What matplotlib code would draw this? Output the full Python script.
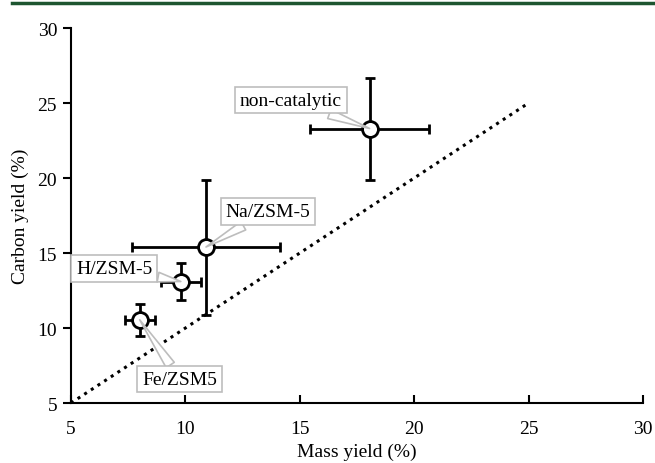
import matplotlib.pyplot as plt
from matplotlib.lines import Line2D

plt.rcParams['font.family'] = ['Liberation Serif', 'DejaVu Serif']

labels = ["Fe/ZSM5", "H/ZSM-5", "Na/ZSM-5", "non-catalytic"]
mass_yield = [8.0, 9.8, 10.9, 18.05]
mass_err = [0.65, 0.87, 3.25, 2.6]
carbon_yield = [10.55, 13.1, 15.4, 23.3]
carbon_err = [1.05, 1.25, 4.5, 3.4]
label_pos = [(9.75, 6.6), (6.9, 13.95), (13.6, 17.75), (14.6, 25.2)]
parity = [5, 25]

fig = plt.figure(figsize=(6.55, 4.64), dpi=100)
ax = fig.add_axes([0.1084, 0.1293, 0.8733, 0.8082])

ax.plot(parity, parity, color="black", linestyle=(0, (1, 1.6)), linewidth=2.2, zorder=1)

ax.errorbar(mass_yield, carbon_yield, xerr=mass_err, yerr=carbon_err,
            fmt="none", ecolor="black", elinewidth=2, capsize=3.5, capthick=2, zorder=2)
ax.scatter(mass_yield, carbon_yield, s=130, facecolor="white", edgecolor="black",
           linewidth=2, zorder=3)

for lab, x, y, (tx, ty) in zip(labels, mass_yield, carbon_yield, label_pos):
    ax.annotate(lab, xy=(x, y), xytext=(tx, ty), fontsize=14, ha="center", va="center",
                bbox=dict(boxstyle="square,pad=0.25", fc="white", ec="#bdbdbd", lw=1.2),
                arrowprops=dict(arrowstyle="wedge,tail_width=0.5,shrink_factor=0.5",
                                fc="white", ec="#bdbdbd", lw=1.2,
                                shrinkA=0, shrinkB=0),
                zorder=4)

ax.set_xlim(5, 30)
ax.set_ylim(5, 30)
ax.set_xticks([5, 10, 15, 20, 25, 30])
ax.set_yticks([5, 10, 15, 20, 25, 30])
ax.spines["top"].set_visible(False)
ax.spines["right"].set_visible(False)
for s in ["left", "bottom"]:
    ax.spines[s].set_linewidth(1.5)
ax.tick_params(axis="x", direction="in", length=6, width=1.5, labelsize=14, pad=12)
ax.tick_params(axis="y", direction="out", length=6, width=1.5, labelsize=14, pad=4)
ax.set_xlabel("Mass yield (%)", fontsize=14, labelpad=4)
ax.set_ylabel("Carbon yield (%)", fontsize=14, labelpad=6)

# journal header rule
fig.add_artist(Line2D([12 / 655, 1.0], [1 - 4 / 464, 1 - 4 / 464],
                      color="#1d5530", linewidth=2.5, transform=fig.transFigure))

fig.savefig("out.png", dpi=100)
